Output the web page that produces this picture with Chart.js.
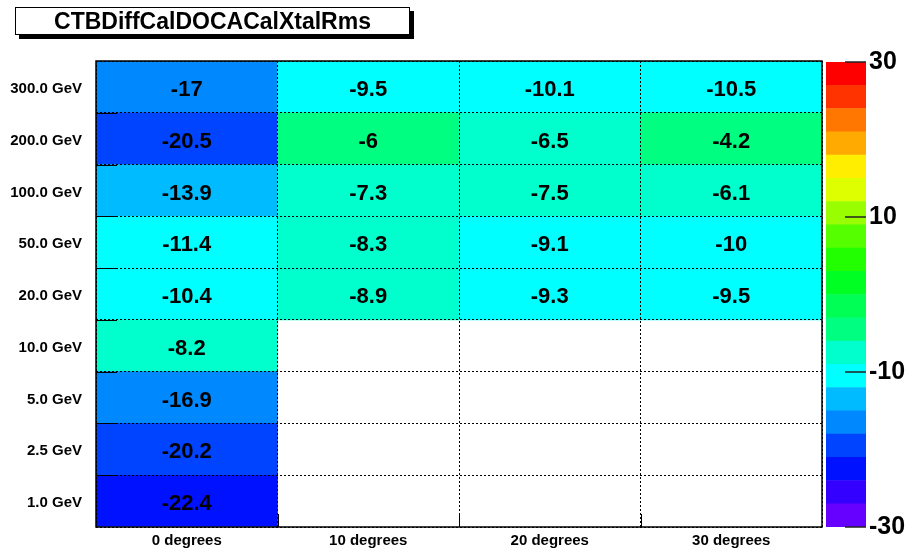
<!DOCTYPE html>
<html>
<head>
<meta charset="utf-8">
<script src="https://cdn.jsdelivr.net/npm/chart.js@4"></script>
<style>
  body { margin: 0; background: #fff; }
  #wrap { position: relative; width: 911px; height: 555px; }
  #main { position: absolute; left: 0; top: 0; }
  #pal { position: absolute; left: 800px; top: 0; }
  #title {
    position: absolute; left: 15px; top: 7px; width: 395px; height: 28px;
    box-sizing: border-box; border: 1px solid #000; background: #fff;
    box-shadow: 4px 4px 0 #000;
    font: bold 23px "Liberation Sans", Arial, sans-serif;
    text-align: center; line-height: 26px;
  }
</style>
</head>
<body>
<div id="wrap">
  <canvas id="main" width="911" height="555"></canvas>
  <canvas id="pal" width="111" height="555"></canvas>
  <div id="title">CTBDiffCalDOCACalXtalRms</div>
</div>
<script>
// axes
const angles = ['0 degrees', '10 degrees', '20 degrees', '30 degrees'];
const energies = ['1.0 GeV', '2.5 GeV', '5.0 GeV', '10.0 GeV', '20.0 GeV', '50.0 GeV', '100.0 GeV', '200.0 GeV', '300.0 GeV'];

// cell values per angle, from 1.0 GeV up to 300.0 GeV (null = empty bin)
const deg0  = [-22.4, -20.2, -16.9, -8.2, -10.4, -11.4, -13.9, -20.5, -17];
const deg10 = [null, null, null, null, -8.9, -8.3, -7.3, -6, -9.5];
const deg20 = [null, null, null, null, -9.3, -9.1, -7.5, -6.5, -10.1];
const deg30 = [null, null, null, null, -9.5, -10, -6.1, -4.2, -10.5];

// colour scale
const zMin = -30, zMax = 30;
const zTicks = [-30, -10, 10, 30];
const palette = ['#6600ff', '#3300ff', '#0011ff', '#0044ff', '#0088ff', '#00bbff', '#00ffff',
                 '#00ffcc', '#00ff80', '#00ff55', '#00ff22', '#22ff00', '#55ff00', '#99ff00',
                 '#ddff00', '#ffee00', '#ffaa00', '#ff7700', '#ff3300', '#ff0000'];

const columns = [deg0, deg10, deg20, deg30];
const FONT = '"Liberation Sans", Arial, Helvetica, sans-serif';
Chart.defaults.font.family = FONT;
Chart.defaults.color = '#000';

function colorFor(v) {
  let k = Math.floor((v - zMin) / (zMax - zMin) * palette.length);
  k = Math.max(0, Math.min(palette.length - 1, k));
  return palette[k];
}

// one floating-bar dataset per energy row
const rows = energies.map((e, r) => ({
  label: e,
  values: columns.map(col => col[r]),
  data: columns.map(col => col[r] == null ? null : [r, r + 1]),
  backgroundColor: columns.map(col => col[r] == null ? 'rgba(0,0,0,0)' : colorFor(col[r])),
  borderWidth: 0
}));

const cellText = {
  id: 'cellText',
  afterDatasetsDraw(chart) {
    const ctx = chart.ctx;
    ctx.save();
    ctx.font = 'bold 22px ' + FONT;
    ctx.fillStyle = '#000';
    ctx.textAlign = 'center';
    ctx.textBaseline = 'middle';
    chart.data.datasets.forEach((ds, i) => {
      chart.getDatasetMeta(i).data.forEach((bar, j) => {
        const v = ds.values[j];
        if (v == null) return;
        ctx.fillText(String(v), bar.x, (bar.y + bar.base) / 2 + 3);
      });
    });
    ctx.restore();
  }
};

const frame = {
  id: 'frame',
  afterDraw(chart) {
    const { ctx, chartArea: a, scales: { x, y } } = chart;
    ctx.save();
    ctx.strokeStyle = '#000';
    ctx.lineWidth = 1;
    ctx.beginPath();
    for (let r = 1; r < energies.length; r++) {
      const py = Math.round(y.getPixelForValue(r)) + 0.5;
      ctx.moveTo(a.left, py); ctx.lineTo(a.left + 21, py);
    }
    for (let c = 1; c < angles.length; c++) {
      const px = Math.round((x.getPixelForValue(c - 1) + x.getPixelForValue(c)) / 2) + 0.5;
      ctx.moveTo(px, a.bottom); ctx.lineTo(px, a.bottom - 13);
    }
    ctx.stroke();
    ctx.lineWidth = 1.5;
    ctx.strokeRect(a.left, a.top, a.right - a.left, a.bottom - a.top);
    ctx.restore();
  }
};

new Chart(document.getElementById('main'), {
  type: 'bar',
  data: { labels: angles, datasets: rows },
  options: {
    responsive: false,
    animation: false,
    events: [],
    devicePixelRatio: 1,
    layout: { padding: { left: 0, top: 61, right: 89, bottom: 0 } },
    datasets: { bar: { grouped: false, barPercentage: 1, categoryPercentage: 1 } },
    plugins: { legend: { display: false }, tooltip: { enabled: false } },
    scales: {
      x: {
        afterFit: s => { s.height = 28; },
        grid: { z: 1, color: '#000', lineWidth: 1, drawTicks: false, offset: true },
        border: { display: false, dash: [2, 2] },
        ticks: { padding: 5, font: { size: 15, weight: 'bold' } }
      },
      y: {
        type: 'linear',
        min: 0,
        max: energies.length,
        afterFit: s => { s.width = 96; },
        afterBuildTicks: s => {
          const t = [];
          for (let v = 0; v <= energies.length; v += 0.5) t.push({ value: v });
          s.ticks = t;
        },
        grid: {
          z: 1,
          drawTicks: false,
          lineWidth: 1,
          color: c => (c.tick && Number.isInteger(c.tick.value)) ? '#000' : 'rgba(0,0,0,0)'
        },
        border: { display: false, dash: [2, 2] },
        ticks: {
          autoSkip: false,
          padding: 14,
          labelOffset: 2,
          font: { size: 15, weight: 'bold' },
          callback: v => (v % 1 === 0.5) ? energies[Math.floor(v)] : ''
        }
      }
    }
  },
  plugins: [cellText, frame]
});

// colour palette on the right
const step = (zMax - zMin) / palette.length;
const palTicks = {
  id: 'palTicks',
  afterDraw(chart) {
    const { ctx, chartArea: a, scales: { y } } = chart;
    ctx.save();
    ctx.strokeStyle = '#222';
    ctx.lineWidth = 1.5;
    ctx.beginPath();
    zTicks.forEach(v => {
      const py = y.getPixelForValue(v);
      ctx.moveTo(a.right - 21, py); ctx.lineTo(a.right, py);
    });
    ctx.stroke();
    ctx.restore();
  }
};

new Chart(document.getElementById('pal'), {
  type: 'bar',
  data: {
    labels: ['z'],
    datasets: palette.map((col, k) => ({
      data: [[zMin + k * step, zMin + (k + 1) * step]],
      backgroundColor: col,
      borderWidth: 0
    }))
  },
  options: {
    responsive: false,
    animation: false,
    events: [],
    devicePixelRatio: 1,
    layout: { padding: { left: 26, top: 62, right: 0, bottom: 28 } },
    datasets: { bar: { grouped: false, barPercentage: 1, categoryPercentage: 1 } },
    plugins: { legend: { display: false }, tooltip: { enabled: false } },
    scales: {
      x: { display: false },
      y: {
        position: 'right',
        min: zMin,
        max: zMax,
        afterFit: s => { s.width = 45; },
        afterBuildTicks: s => { s.ticks = zTicks.map(v => ({ value: v })); },
        grid: { display: false, drawTicks: false },
        border: { display: false },
        ticks: { padding: 3, font: { size: 25, weight: 'bold' } }
      }
    }
  },
  plugins: [palTicks]
});
</script>
</body>
</html>
